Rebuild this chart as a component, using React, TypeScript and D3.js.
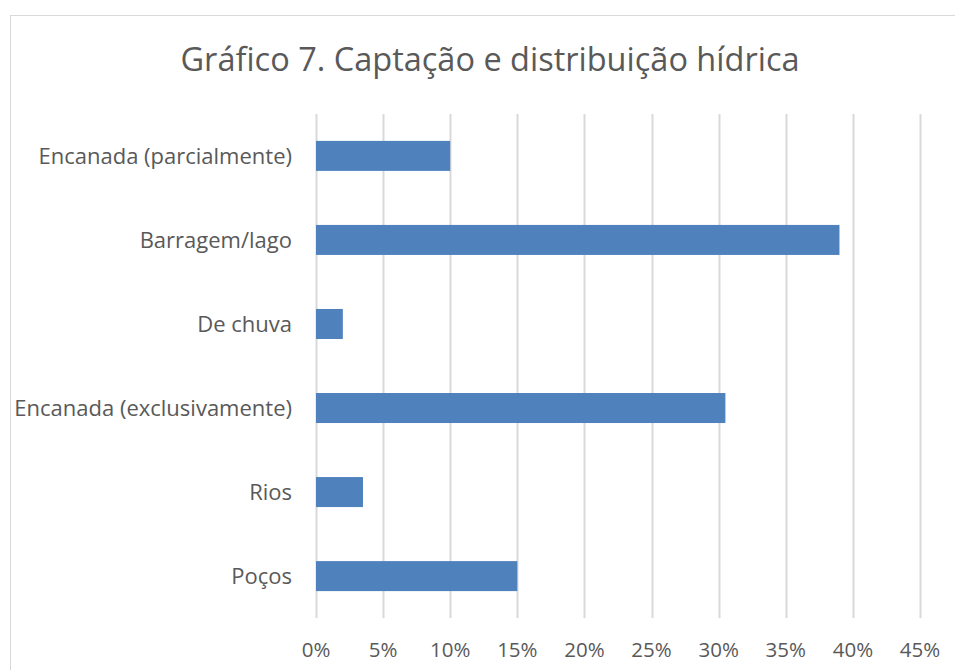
import React, { useRef, useEffect } from 'react';
import * as d3 from 'd3';

const categories = [
  'Encanada (parcialmente)',
  'Barragem/lago',
  'De chuva',
  'Encanada (exclusivamente)',
  'Rios',
  'Poços',
];
const values = [10, 39, 2, 30.5, 3.5, 15];
const ticks = [0, 5, 10, 15, 20, 25, 30, 35, 40, 45];

const App = () => {
  const svgRef = useRef<SVGSVGElement>(null);

  useEffect(() => {
    const svg = d3.select(svgRef.current);
    svg.selectAll('*').remove();

    const width = 955;
    const height = 670;
    const margin = { top: 114, left: 316, right: 35, bottom: 52 };
    const font = 'Open Sans, sans-serif';
    const textColor = '#595959';

    // chart frame (runs past the right and bottom edges)
    svg
      .append('rect')
      .attr('x', 10.5)
      .attr('y', 15.5)
      .attr('width', 1000)
      .attr('height', 700)
      .attr('fill', '#fff')
      .attr('stroke', '#d9d9d9')
      .attr('stroke-width', 1);

    const x = d3
      .scaleLinear()
      .domain([0, 45])
      .range([margin.left, width - margin.right]);

    const y = d3
      .scaleBand()
      .domain(categories)
      .range([margin.top, height - margin.bottom])
      .paddingInner(0.643)
      .paddingOuter(0.32);

    // gridlines
    svg
      .append('g')
      .selectAll('line')
      .data(ticks)
      .enter()
      .append('line')
      .attr('x1', (d) => Math.round(x(d)) + 0.5)
      .attr('x2', (d) => Math.round(x(d)) + 0.5)
      .attr('y1', margin.top)
      .attr('y2', height - margin.bottom)
      .attr('stroke', '#d9d9d9')
      .attr('stroke-width', 2);

    // bars
    svg
      .append('g')
      .selectAll('rect')
      .data(values)
      .enter()
      .append('rect')
      .attr('x', x(0))
      .attr('y', (d, i) => y(categories[i]) as number)
      .attr('width', (d) => x(d) - x(0))
      .attr('height', y.bandwidth())
      .attr('fill', '#4f81bd');

    // x tick labels
    svg
      .append('g')
      .selectAll('text')
      .data(ticks)
      .enter()
      .append('text')
      .attr('x', (d) => x(d))
      .attr('y', 657)
      .attr('text-anchor', 'middle')
      .attr('font-family', font)
      .attr('font-size', 20.5)
      .attr('fill', textColor)
      .text((d) => `${d}%`);

    // category labels
    svg
      .append('g')
      .selectAll('text')
      .data(categories)
      .enter()
      .append('text')
      .attr('x', 292)
      .attr('y', (d) => (y(d) as number) + y.bandwidth() / 2)
      .attr('dy', '0.35em')
      .attr('text-anchor', 'end')
      .attr('font-family', font)
      .attr('font-size', 22)
      .attr('fill', textColor)
      .text((d) => d);

    // title
    svg
      .append('text')
      .attr('x', 490)
      .attr('y', 71)
      .attr('text-anchor', 'middle')
      .attr('font-family', font)
      .attr('font-size', 32.5)
      .attr('fill', textColor)
      .text('Gráfico 7. Captação e distribuição hídrica');
  }, []);

  return (
    <svg
      ref={svgRef}
      width={955}
      height={670}
      style={{ position: 'absolute', left: 0, top: 0 }}
    ></svg>
  );
};

export default App;
